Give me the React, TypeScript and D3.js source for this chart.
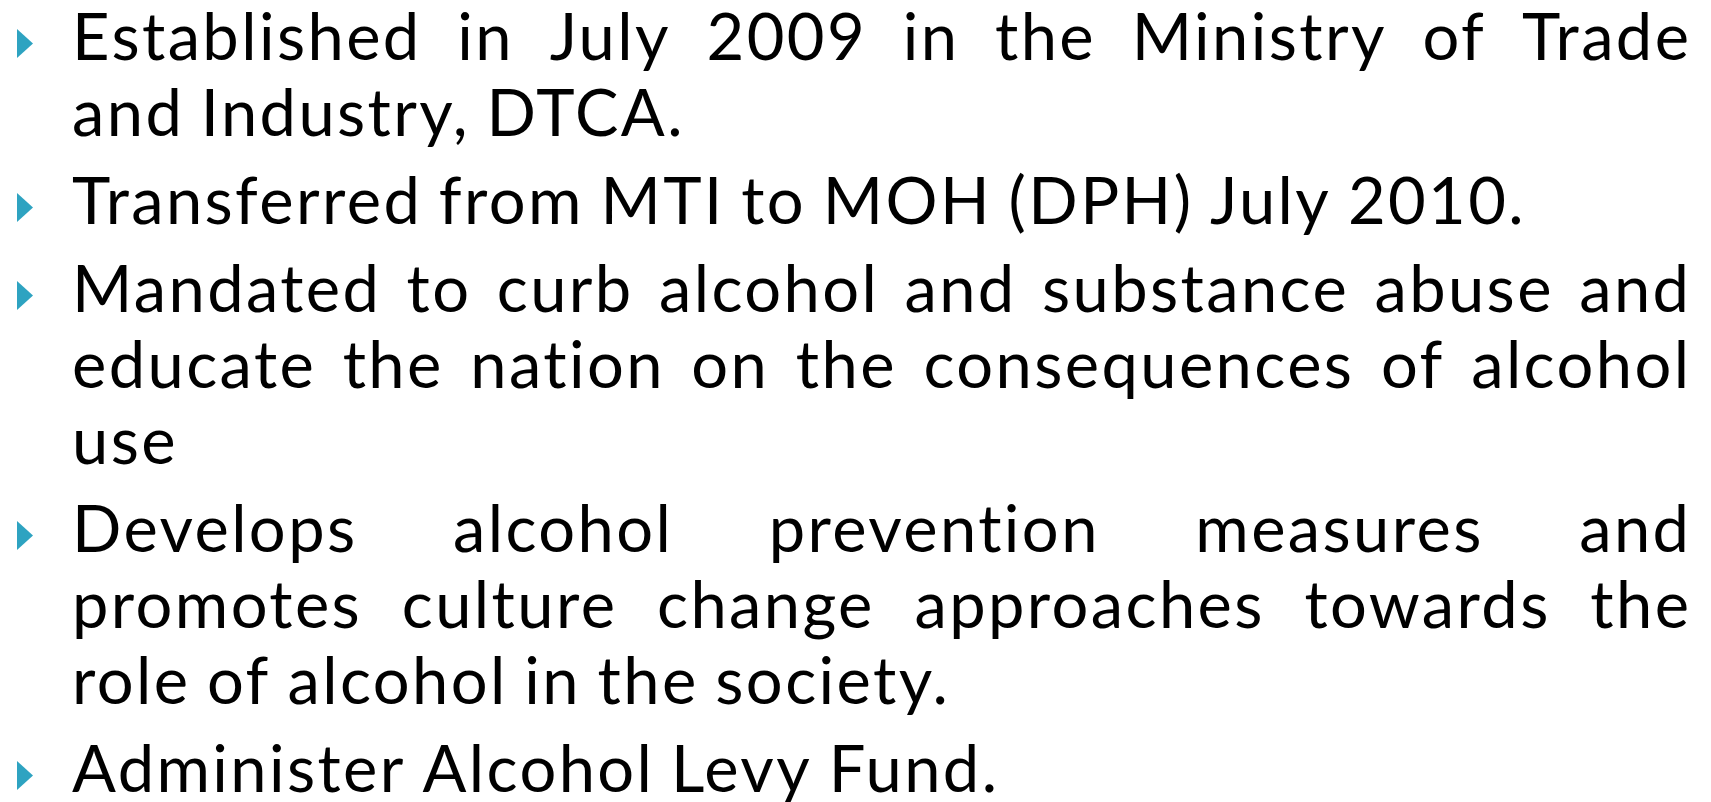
import React, { useEffect, useRef } from 'react';
import * as d3 from 'd3';

const W = 1711;
const H = 802;

// slide text, one entry per printed line
const LINES = [
  'Established in July 2009 in the Ministry of Trade',
  'and Industry, DTCA.',
  'Transferred from MTI to MOH (DPH) July 2010.',
  'Mandated to curb alcohol and substance abuse and',
  'educate the nation on the consequences of alcohol',
  'use',
  'Develops alcohol prevention measures and',
  'promotes culture change approaches towards the',
  'role of alcohol in the society.',
  'Administer Alcohol Levy Fund.',
];
// does the line open a new bullet
const STARTS_BULLET = [true, false, true, true, false, false, true, false, false, true];
// justified lines (all but the last line of each bullet)
const JUSTIFIED = [true, false, false, true, true, false, true, true, false, false];

const LEFT = 72;
const RIGHT = 1689;
const TOP = 60;
const LINE_STEP = 76;
const BULLET_STEP = 88;
const FONT = 'Lato, "Open Sans", sans-serif';
const SIZE = 65;
const TRACKING = 2.4;
const BULLET_COLOR = '#2ea3c1';

const App = () => {
  const ref = useRef<SVGGElement>(null);

  useEffect(() => {
    const draw = () => {
      const g = d3.select(ref.current);
      g.selectAll('*').remove();

      const measure = (s: string) => {
        const t = g
          .append('text')
          .attr('font-family', FONT)
          .attr('font-size', SIZE)
          .attr('letter-spacing', TRACKING)
          .attr('xml:space', 'preserve')
          .text(s);
        const w = (t.node() as SVGTextElement).getComputedTextLength();
        t.remove();
        return w;
      };
      const space = measure('a a') - measure('aa');

      let y = TOP;
      LINES.forEach((line, i) => {
        if (i > 0) y += STARTS_BULLET[i] ? BULLET_STEP : LINE_STEP;

        if (STARTS_BULLET[i]) {
          const tri: [number, number][] = [[17, y - 31], [33, y - 16.5], [17, y - 2]];
          g.append('path')
            .attr('d', d3.line()(tri) + 'Z')
            .attr('fill', BULLET_COLOR);
        }

        const words = line.split(' ');
        // drop the trailing tracking after the last glyph
        const widths = words.map(w => measure(w) - TRACKING);
        const total = d3.sum(widths);
        const gap = JUSTIFIED[i] && words.length > 1 ? (RIGHT - LEFT - total) / (words.length - 1) : space;

        let x = LEFT;
        words.forEach((w, j) => {
          g.append('text')
            .attr('x', x)
            .attr('y', y)
            .attr('font-family', FONT)
            .attr('font-size', SIZE)
            .attr('letter-spacing', TRACKING)
            .attr('fill', '#000')
            .text(w);
          x += widths[j] + gap;
        });
      });
    };

    draw();
    if (document.fonts && document.fonts.ready) document.fonts.ready.then(draw);
  }, []);

  return (
    <svg width={W} height={H} style={{ position: 'absolute', left: 0, top: 0, background: '#fff' }}>
      <g ref={ref} />
    </svg>
  );
};

export default App;
